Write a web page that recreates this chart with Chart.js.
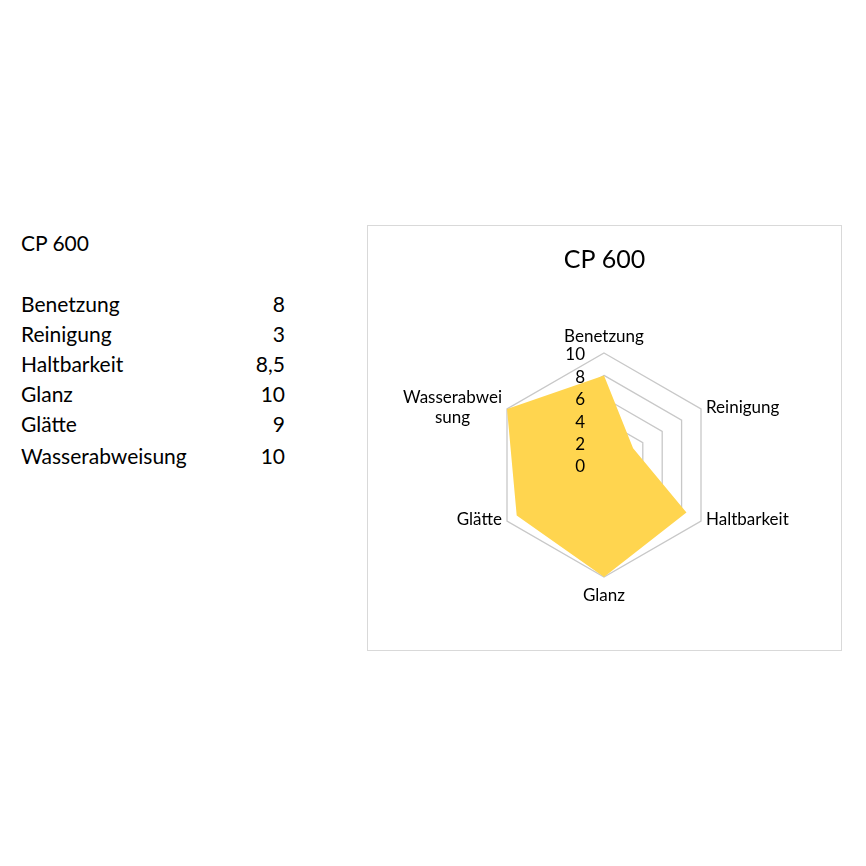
<!DOCTYPE html>
<html>
<head>
<meta charset="utf-8">
<script src="https://cdn.jsdelivr.net/npm/chart.js@4.4.1/dist/chart.umd.min.js"></script>
<style>
  body { margin: 0; background: #fff; font-family: Lato, sans-serif; }
  #table { position: absolute; left: 21px; top: 228px; width: 264px; font-size: 21px; color: #000; }
  #table .head { height: 30px; line-height: 30px; margin-bottom: 31px; }
  #table .row { display: flex; justify-content: space-between; height: 30px; line-height: 30px; }
  #table .row:last-child { margin-top: 2px; }
  #box { position: absolute; left: 367px; top: 225px; width: 473px; height: 424px; border: 1px solid #d9d9d9; }
</style>
</head>
<body>
<div id="table"></div>
<div id="box"><canvas id="radar" width="473" height="424"></canvas></div>
<script>
// Daten aus der Tabelle
const title = "CP 600";
const categories = ["Benetzung", "Reinigung", "Haltbarkeit", "Glanz", "Glätte", "Wasserabweisung"];
const axisLabels = [["Benetzung"], ["Reinigung"], ["Haltbarkeit"], ["Glanz"], ["Glätte"], ["Wasserabwei", "sung"]];
const values = [8, 3, 8.5, 10, 9, 10];
const valueText = ["8", "3", "8,5", "10", "9", "10"];
const tickValues = [0, 2, 4, 6, 8, 10];

// --- Tabelle links ---
const table = document.getElementById("table");
table.innerHTML = '<div class="head">' + title + "</div>" +
  categories.map((c, i) => '<div class="row"><span>' + c + "</span><span>" + valueText[i] + "</span></div>").join("");

// Beschriftungen selbst zeichnen (Excel-Stil)
const labelPlugin = {
  id: "excelLabels",
  afterDatasetsDraw(chart) {
    const scale = chart.scales.r;
    const ctx = chart.ctx;
    ctx.save();
    ctx.fillStyle = "#000";
    ctx.font = "17px Lato";

    // Achsenwerte links neben der oberen Achse
    ctx.textAlign = "right";
    ctx.textBaseline = "middle";
    tickValues.forEach((v) => {
      const d = scale.getDistanceFromCenterForValue(v);
      ctx.fillText(String(v), scale.xCenter - 19, scale.yCenter - d + 2);
    });

    // Kategorien
    const lh = 20;
    axisLabels.forEach((lines, i) => {
      const p = scale.getPointPosition(i, scale.drawingArea);
      const dx = p.x - scale.xCenter;
      const dy = p.y - scale.yCenter;
      ctx.textBaseline = "alphabetic";
      ctx.textAlign = "center";
      if (Math.abs(dx) < 1) {
        const y0 = dy < 0 ? p.y - 11 - (lines.length - 1) * lh : p.y + 24;
        lines.forEach((t, k) => ctx.fillText(t, p.x, y0 + k * lh));
      } else {
        const w = Math.max(...lines.map((t) => ctx.measureText(t).width));
        const cx = dx > 0 ? p.x + 5 + w / 2 : p.x - 5 - w / 2;
        const y0 = p.y + 4 - ((lines.length - 1) * lh) / 2;
        if (lines.length === 1) {
          ctx.textAlign = dx > 0 ? "left" : "right";
          ctx.fillText(lines[0], dx > 0 ? p.x + 5 : p.x - 5, y0);
        } else {
          lines.forEach((t, k) => ctx.fillText(t, cx, y0 + k * lh));
        }
      }
    });
    ctx.restore();
  },
};

new Chart(document.getElementById("radar").getContext("2d"), {
  type: "radar",
  data: {
    labels: categories,
    datasets: [
      {
        label: title,
        data: values,
        backgroundColor: "#ffd54f",
        borderWidth: 0,
        pointRadius: 0,
        fill: true,
      },
    ],
  },
  options: {
    responsive: false,
    animation: false,
    layout: { padding: { top: 0, bottom: 73, left: 0, right: 0 } },
    plugins: {
      legend: { display: false },
      tooltip: { enabled: false },
      title: {
        display: true,
        text: title,
        color: "#000",
        font: { family: "Lato", size: 25, weight: "normal" },
        padding: { top: 19, bottom: 78 },
      },
    },
    scales: {
      r: {
        min: 0,
        max: 10,
        ticks: { display: false, stepSize: 2 },
        pointLabels: { display: false },
        angleLines: { display: false },
        grid: { color: "#c8c8c8", lineWidth: 1.3 },
      },
    },
  },
  plugins: [labelPlugin],
});
</script>
</body>
</html>
